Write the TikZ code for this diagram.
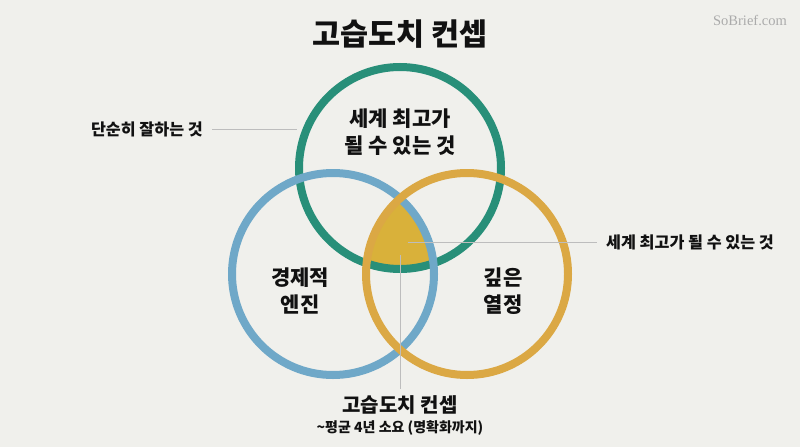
\documentclass[tikz,border=0pt]{standalone}
\usepackage{fontspec}
\setmainfont{Noto Sans CJK KR}
\newfontfamily\heavy{Noto Sans CJK KR Black}
\newfontfamily\brandfont{Liberation Serif}
\definecolor{bgc}{HTML}{F0F0EC}
\definecolor{ringgreen}{HTML}{288F79}
\definecolor{ringblue}{HTML}{6FA8C8}
\definecolor{ringgold}{HTML}{DBA844}
\definecolor{lensgold}{HTML}{D9B13A}
\definecolor{leader}{HTML}{BDBDBD}
\definecolor{txt}{HTML}{111111}
\tikzset{
  ring/.style={line width=8pt},
  leaderline/.style={draw=leader,line width=0.9pt},
  lbl/.style={text=txt,font=\bfseries\fontsize{21}{27}\selectfont,align=center,inner sep=0pt},
  side/.style={text=txt,font=\bfseries\fontsize{16.2}{18}\selectfont,inner sep=0pt},
}
\begin{document}
\begin{tikzpicture}[x=1pt,y=-1pt]
\fill[bgc] (0,0) rectangle (800,447);
\useasboundingbox (0,0) rectangle (800,447);
\coordinate (cg) at (400,168);
\coordinate (cb) at (333,274);
\coordinate (co) at (467,274);
\begin{scope}
\clip (cg) circle[radius=101];
\clip (cb) circle[radius=101];
\fill[lensgold] (co) circle[radius=101];
\end{scope}
\draw[ring,ringgreen] (cg) circle[radius=101];
\draw[ring,ringblue] (cb) circle[radius=101];
\draw[ring,ringgold] (co) circle[radius=101];
% leader lines
\coordinate (l1a) at (212,129);
\coordinate (l1b) at (297,129);
\coordinate (l2a) at (408,242);
\coordinate (l2b) at (597,242);
\coordinate (l3a) at (400,255);
\coordinate (l3b) at (400,389);
\draw[leaderline] (l1a) -- (l1b);
\draw[leaderline] (l2a) -- (l2b);
\draw[leaderline] (l3a) -- (l3b);
% texts
\node[text=txt,font=\heavy\fontsize{30.5}{34}\selectfont,inner sep=0pt] (title) at (400,34) {고습도치 컨셉};
\node[text=black!33,font=\brandfont\fontsize{14.5}{16}\selectfont,inner sep=0pt] (brand) at (750,20) {SoBrief.com};
\node[lbl] (top) at (400,132) {세계 최고가\\될 수 있는 것};
\node[lbl] (econ) at (300,291) {경제적\\엔진};
\node[lbl] (pass) at (503,291) {깊은\\열정};
\node[side,anchor=east] (simple) at (203,129) {단순히 잘하는 것};
\node[side,anchor=west] (best) at (606,242) {세계 최고가 될 수 있는 것};
\node[text=txt,font=\bfseries\fontsize{20}{24}\selectfont,inner sep=0pt] (hedge) at (400,405) {고습도치 컨셉};
\node[text=txt,font=\bfseries\fontsize{14}{16}\selectfont,inner sep=0pt] (time) at (400,428) {\textasciitilde 평균 4년 소요 (명확화까지)};
\end{tikzpicture}
\end{document}
